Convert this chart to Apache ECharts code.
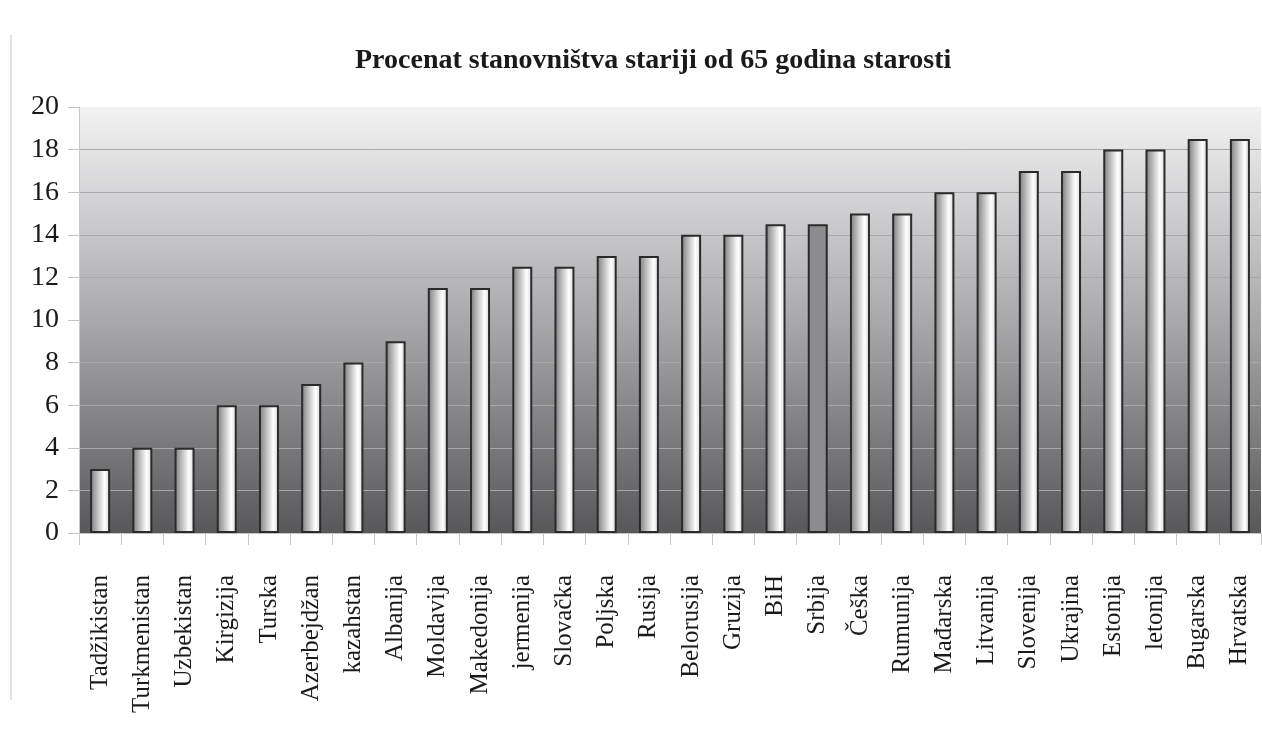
<!DOCTYPE html>
<html>
<head>
<meta charset="utf-8">
<script src="https://cdn.jsdelivr.net/npm/echarts@6/dist/echarts.min.js"></script>
<style>
  html, body { margin: 0; padding: 0; background: #fff; }
  #chart { width: 1262px; height: 729px; }
</style>
</head>
<body>
<div id="chart"></div>
<script>
const titleText = 'Procenat stanovništva stariji od 65 godina starosti';

const countries = ['Tadžikistan', 'Turkmenistan', 'Uzbekistan', 'Kirgizija', 'Turska', 'Azerbejdžan',
    'kazahstan', 'Albanija', 'Moldavija', 'Makedonija', 'jermenija', 'Slovačka', 'Poljska', 'Rusija',
    'Belorusija', 'Gruzija', 'BiH', 'Srbija', 'Češka', 'Rumunija', 'Mađarska', 'Litvanija', 'Slovenija',
    'Ukrajina', 'Estonija', 'letonija', 'Bugarska', 'Hrvatska'];

const percent = [3, 4, 4, 6, 6, 7, 8, 9, 11.5, 11.5, 12.5, 12.5, 13, 13, 14, 14, 14.5, 14.5, 15, 15,
    16, 16, 17, 17, 18, 18, 18.5, 18.5];

// Srbija is drawn flat grey in the original
const highlighted = 'Srbija';

const yMin = 0, yMax = 20, yStep = 2;

const barFill = {
    type: 'linear', x: 0, y: 0, x2: 1, y2: 0,
    colorStops: [
        { offset: 0, color: '#7a7a7c' },
        { offset: 0.72, color: '#ffffff' },
        { offset: 1, color: '#d4d4d6' }
    ]
};

let option = {
    animation: false,
    textStyle: { fontFamily: 'Liberation Serif' },
    title: {
        text: titleText,
        left: 350,
        top: 42,
        textStyle: { fontFamily: 'Liberation Serif', fontWeight: 'bold', fontSize: 28, color: '#1a1a1a' }
    },
    grid: {
        left: 79, right: 1, top: 107, bottom: 196,
        show: true,
        borderWidth: 0,
        backgroundColor: {
            type: 'linear', x: 0, y: 0, x2: 0, y2: 1,
            colorStops: [
                { offset: 0, color: '#f3f3f4' },
                { offset: 0.5, color: '#a9a9ac' },
                { offset: 1, color: '#58585a' }
            ]
        }
    },
    graphic: [{
        type: 'line',
        shape: { x1: 11, y1: 35, x2: 11, y2: 700 },
        style: { stroke: '#c8c8c8', lineWidth: 1 }
    }],
    xAxis: {
        type: 'category',
        data: countries,
        axisLine: { lineStyle: { color: '#c4c4c4', width: 1 } },
        axisTick: { show: true, length: 12, lineStyle: { color: '#c8c8c8' } },
        axisLabel: {
            rotate: 90,
            margin: 42,
            interval: 0,
            fontSize: 25,
            color: '#1a1a1a',
            fontFamily: 'Liberation Serif'
        }
    },
    yAxis: {
        type: 'value',
        min: yMin, max: yMax, interval: yStep,
        axisLine: { show: true, lineStyle: { color: '#c8c8c8' } },
        axisTick: { show: true, length: 11, lineStyle: { color: '#c4c4c4' } },
        axisLabel: { fontSize: 28, color: '#1a1a1a', margin: 20, fontFamily: 'Liberation Serif' },
        splitLine: { showMaxLine: false, lineStyle: { color: '#a8a8aa', width: 1 } }
    },
    series: [{
        type: 'bar',
        barWidth: 20,
        data: percent.map(function (v, i) {
            const item = { value: v };
            if (countries[i] === highlighted) {
                item.itemStyle = { color: '#8c8c8e' };
            }
            return item;
        }),
        itemStyle: {
            color: barFill,
            borderColor: '#2b2b2b',
            borderWidth: 2
        }
    }]
};

var chart = echarts.init(document.getElementById('chart'));
chart.setOption(option);
</script>
</body>
</html>
